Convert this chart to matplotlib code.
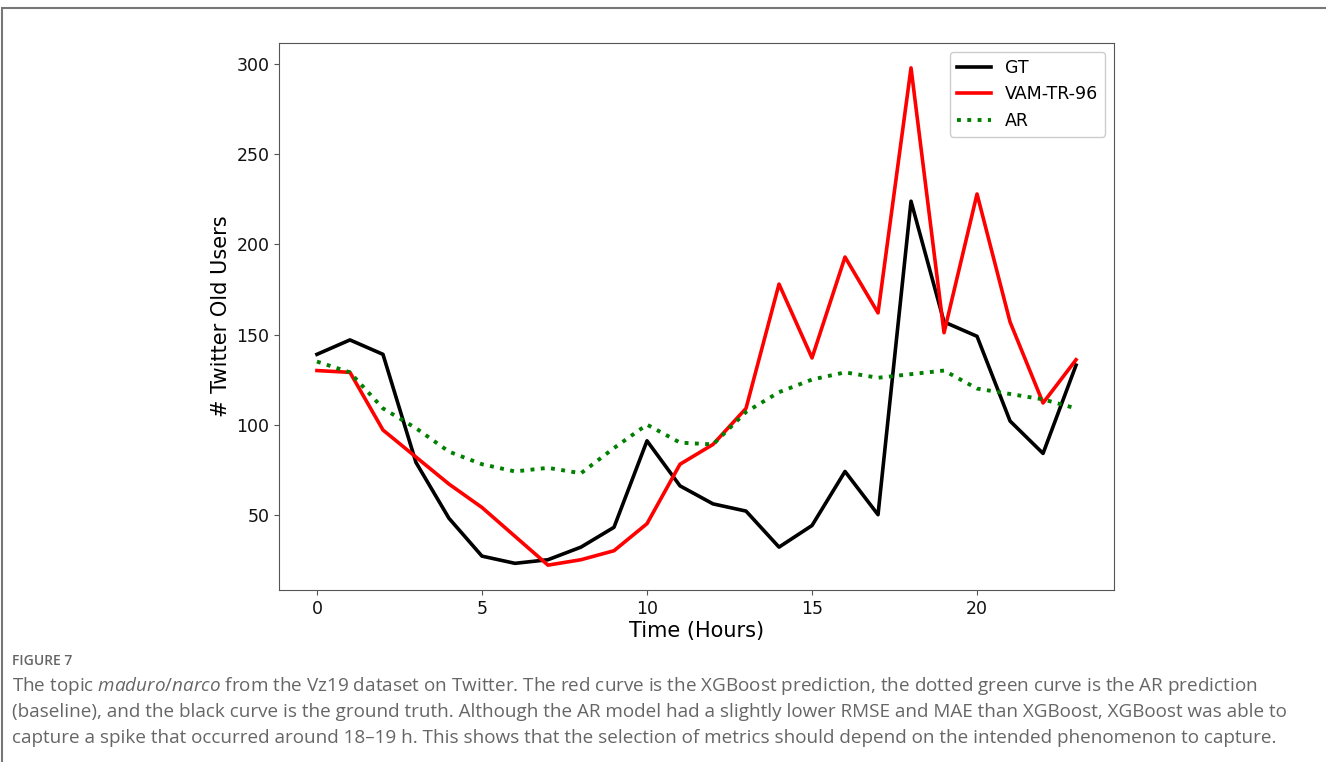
import matplotlib
matplotlib.use("Agg")
import matplotlib.pyplot as plt
from matplotlib.patches import Rectangle

plt.rcParams["mathtext.fontset"] = "custom"
plt.rcParams["mathtext.it"] = "Open Sans:italic"
plt.rcParams["mathtext.rm"] = "Open Sans"

# ---------- data ----------
hours = list(range(24))
gt = [139, 147, 139, 79, 48, 27, 23, 25, 32, 43, 91, 66,
      56, 52, 32, 44, 74, 50, 224, 157, 149, 102, 84, 133]
vam = [130, 129, 97, 82, 67, 54, 38, 22, 25, 30, 45, 78,
       89, 109, 178, 137, 193, 162, 298, 151, 228, 157, 112, 136]
ar = [135, 129, 109, 98, 85, 78, 74, 76, 73, 87, 100, 90,
      89, 107, 118, 125, 129, 126, 128, 130, 120, 117, 114, 109]

caption_title = "FIGURE 7"
caption_lines = [
    "The topic $\\it{maduro/narco}$ from the Vz19 dataset on Twitter. The red curve is the XGBoost prediction, "
    "the dotted green curve is the AR prediction",
    "(baseline), and the black curve is the ground truth. Although the AR model had a slightly lower RMSE "
    "and MAE than XGBoost, XGBoost was able to",
    "capture a spike that occurred around 18\u201319 h. This shows that the selection of metrics should "
    "depend on the intended phenomenon to capture.",
]

W, H = 1326, 762
fig = plt.figure(figsize=(W / 100, H / 100), dpi=100)

# outer frame of the figure panel
fig.patches.append(Rectangle((2 / W, -0.1), 1.2, 1 - 8 / H + 0.1,
                             transform=fig.transFigure, fill=False,
                             edgecolor="#777777", linewidth=1.5))

ax = fig.add_axes([279 / W, 1 - 590 / H, (1114 - 279) / W, (590 - 43) / H])
ax.plot(hours, gt, color="black", lw=2.6, label="GT")
ax.plot(hours, vam, color="red", lw=2.6, label="VAM-TR-96")
ax.plot(hours, ar, color="green", lw=2.8, ls=":", label="AR")

ax.set_xticks([0, 5, 10, 15, 20])
ax.set_yticks([50, 100, 150, 200, 250, 300])
ax.tick_params(labelsize=12.5, color="#555555", labelcolor="#111111")
for s in ax.spines.values():
    s.set_color("#555555")
ax.set_xlabel("Time (Hours)", fontsize=15, labelpad=2)
ax.set_ylabel("# Twitter Old Users", fontsize=15)
ax.legend(loc="upper right", fontsize=12.5, framealpha=1)

fig.text(12 / W, 1 - 661 / H, caption_title, fontsize=10, color="#666666",
         family="Open Sans", va="center", fontweight="semibold")
for i, line in enumerate(caption_lines):
    fig.text(12 / W, 1 - (686 + 26 * i) / H, line, fontsize=13.6, color="#666666",
             family="Open Sans", va="center")

fig.savefig("out.png", dpi=100)
